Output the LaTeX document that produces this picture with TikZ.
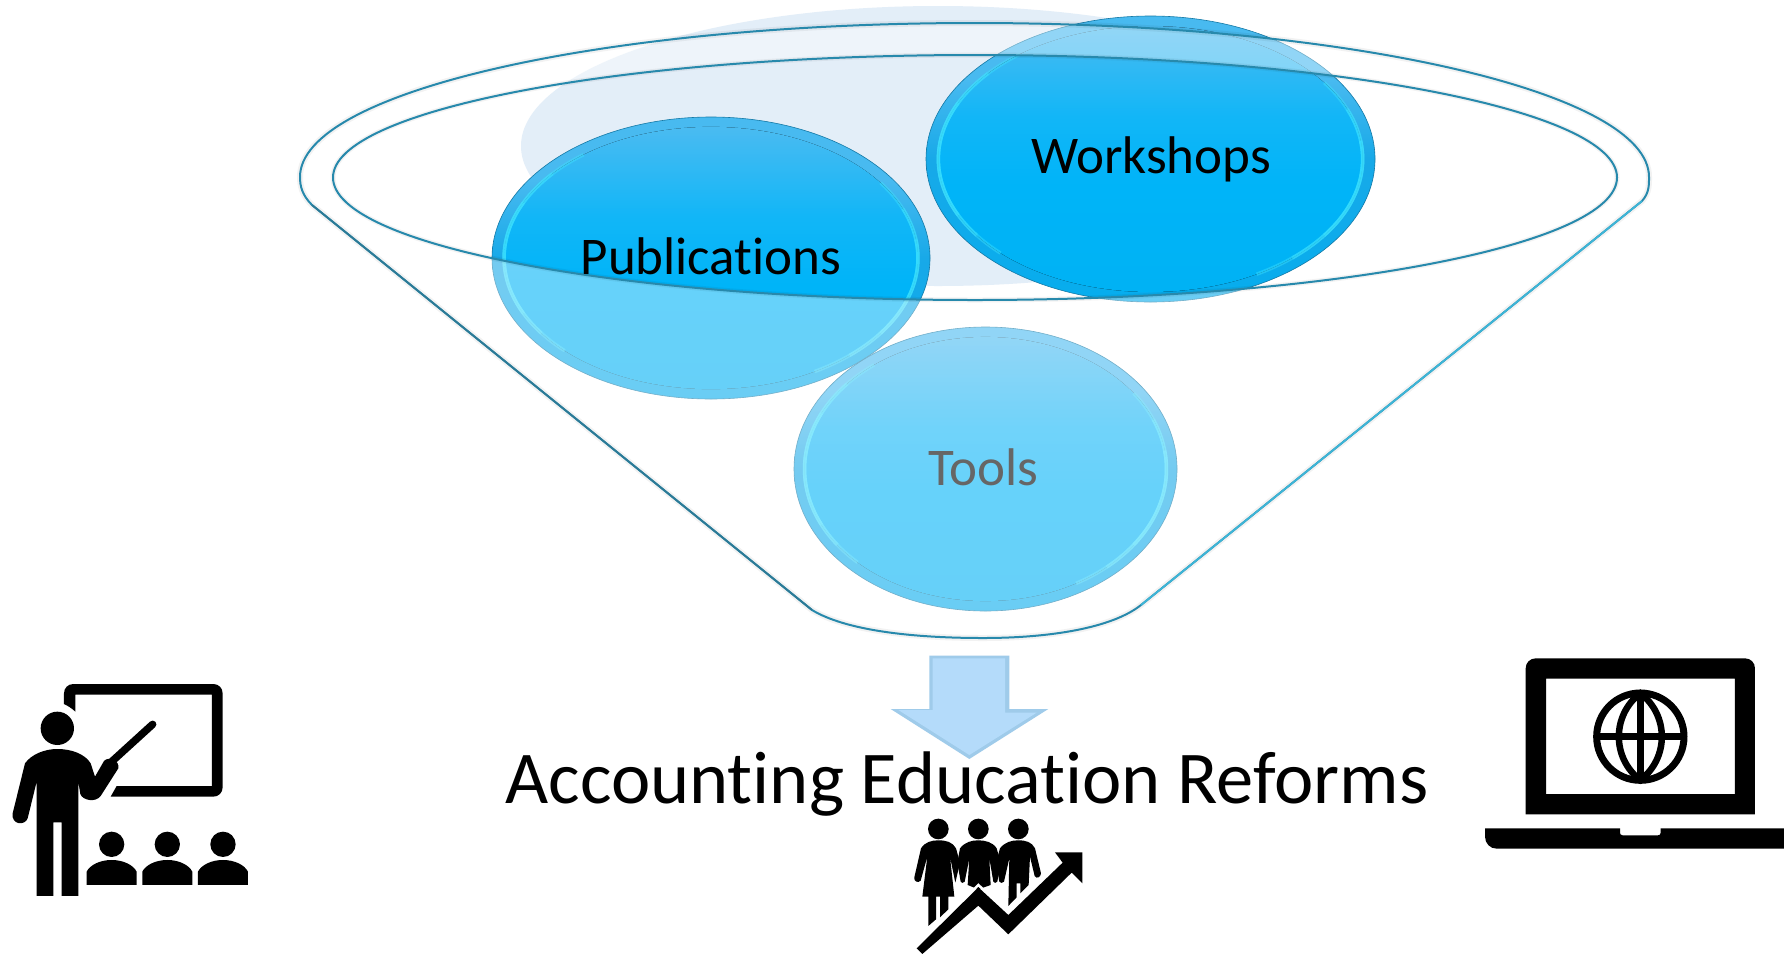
\documentclass[tikz,border=0pt]{standalone}
\usepackage{fontspec}
\setmainfont{Carlito}[Ligatures=NoCommon]
\usetikzlibrary{shapes.geometric}
\definecolor{haze}{HTML}{E3EEF8}
\definecolor{ballband}{HTML}{1CA8E6}
\definecolor{rimbright}{HTML}{3FE4FF}
\definecolor{funnelline}{HTML}{2789AC}
\definecolor{funneldark}{HTML}{2C7A96}
\definecolor{funnelright}{HTML}{3DB6D8}
\definecolor{arrowmain}{HTML}{B4DBFA}
\definecolor{arrowedge}{HTML}{9FCBEA}
\definecolor{toolgrey}{HTML}{666666}
\definecolor{bfa}{HTML}{00B2F4}
\definecolor{bfb}{HTML}{00B4F8}
\definecolor{bfc}{HTML}{12B6F7}
\definecolor{bfd}{HTML}{4ABBF1}
\definecolor{boa}{HTML}{06ADEE}
\definecolor{bob}{HTML}{18A9E8}
\definecolor{boc}{HTML}{48BAF0}
\pgfdeclareverticalshading{ballfill}{100bp}{color(0bp)=(bfa); color(25bp)=(bfa); color(45bp)=(bfb); color(58bp)=(bfc); color(75bp)=(bfd); color(100bp)=(bfd)}
\pgfdeclareverticalshading{ballouter}{100bp}{color(0bp)=(boa); color(25bp)=(boa); color(50bp)=(bob); color(64bp)=(boc); color(100bp)=(boc)}
\newcommand{\funnelpath}{(300,177) .. controls (300,92) and (602,23) .. (974.5,23)
  .. controls (1347,23) and (1649,92) .. (1649,177)
  .. controls (1649,186) and (1649,193) .. (1642,201)
  -- (1141,605) .. controls (1112,628) and (1050,638) .. (983,638)
  .. controls (910,638) and (845,630) .. (812,610)
  -- (312,205) .. controls (302,195) and (300,186) .. (300,177) -- cycle}
\newcommand{\rimpath}{(975,177.5) ellipse[x radius=642,y radius=122.5]}
\tikzset{
  ball/.style={ellipse,inner sep=0pt,outer sep=0pt,shading=ballouter,draw=black!28!ballband,line width=.6pt},
  rimarc/.style={rimbright,line width=3.5pt,opacity=.42},
  lab/.style={font=\fontsize{53}{53}\selectfont,inner sep=0pt,text=black},
  silhouette/.style={fill=black,draw=none},
}
\newcommand{\onearc}[5]{% node rx ry from to
  \draw[rimarc] ([shift={(#4:#2*0.945 and #3*0.93)}]#1.center) arc[start angle=#4,end angle=#5,x radius=#2*0.945,y radius=#3*0.93];}
\newcommand{\ballinner}[3]{% node, rx, ry
  \fill[shading=ballfill] (#1.center) ellipse[x radius=#2*0.945,y radius=#3*0.93];
  \onearc{#1}{#2}{#3}{135}{232}\onearc{#1}{#2}{#3}{145}{220}\onearc{#1}{#2}{#3}{155}{205}
  \onearc{#1}{#2}{#3}{-35}{60}\onearc{#1}{#2}{#3}{-22}{48}\onearc{#1}{#2}{#3}{-8}{35}
}
\begin{document}
\begin{tikzpicture}[x=1pt,y=-1pt]
\useasboundingbox (0,0) rectangle (1784,954);
\fill[white] (0,0) rectangle (1784,954);
% haze behind the funnel
\fill[haze] (938,146) ellipse[x radius=417,y radius=140];
% balls
\node[ball,minimum width=383pt,minimum height=284pt] (tools) at (985.5,469) {};
\ballinner{tools}{191.5}{142}
\node[ball,minimum width=438pt,minimum height=282pt] (pub) at (711,258) {};
\ballinner{pub}{219}{141}
\node[ball,minimum width=449pt,minimum height=286pt] (work) at (1150.5,159) {};
\ballinner{work}{224.5}{143}
% funnel glass
\fill[white,opacity=.4,even odd rule] \funnelpath \rimpath;
% funnel soft shadow and lines
\draw[black,opacity=.05,line width=6pt] \funnelpath;
\draw[black,opacity=.05,line width=5pt] \rimpath;
\draw[funnelline,line width=2pt] \funnelpath;
\draw[funnelright,line width=1.7pt] (1642,201) -- (1141,605);
\draw[funneldark,line width=1.8pt] (312,205) -- (812,610);
\draw[funnelline,line width=2pt] \rimpath;
% labels
\node[lab] (publabel) at (711,256) {Publications};
\node[lab] (worklabel) at (1151,159) {Workshops};
\node[lab,text=toolgrey] (toolslabel) at (983,467) {Tools};
% down arrow
\begin{scope}[shift={(860,640)},x=.3333pt,y=-.3333pt]
\fill[arrowedge] (208,47) -- (448,47) -- (448,207) -- (565,207) -- (328,357) -- (92,207) -- (208,207) -- cycle;
\fill[arrowmain] (218,55) -- (435,55) -- (435,218) -- (530,218) -- (328,345) -- (115,210) -- (218,210) -- cycle;
\end{scope}
\node[font=\fontsize{74.5}{74.5}\selectfont,inner sep=0pt] (reforms) at (967,784) {Accounting Education Reforms};
% presenter icon
\begin{scope}[shift={(0,660)},x=.3333pt,y=-.3333pt]
\fill[silhouette] (192,132) -- (192,100) .. controls (192,84) and (204,72) .. (220,72) -- (640,72)
  .. controls (656,72) and (668,84) .. (668,100) -- (668,382) .. controls (668,398) and (656,410) .. (640,410)
  -- (332,410) -- (350,378) -- (636,378) -- (636,104) -- (226,104) -- (226,155) .. controls (216,145) and (204,138) .. (192,132) -- cycle;
\fill[silhouette] (172,205) circle[radius=50];
\fill[silhouette] (75,310) .. controls (95,282) and (135,267) .. (172,267) .. controls (215,267) and (255,282) .. (272,310)
  -- (285,350) -- (312,303) .. controls (325,288) and (360,300) .. (355,325) -- (302,408)
  .. controls (288,428) and (248,422) .. (241,402) -- (235,365) -- (235,708) -- (185,708) -- (185,487) -- (160,487) -- (160,708) -- (110,708) -- (110,365)
  -- (83,475) .. controls (75,498) and (33,495) .. (38,460) -- cycle;
\draw[black,line width=7.5pt,line cap=round] (335,305) -- (458,193);
\foreach \dx in {0,167,334}{
  \fill[silhouette] (335+\dx,553) circle[radius=38];
  \fill[silhouette] (260+\dx,675) -- (260+\dx,635) .. controls (270+\dx,615) and (300+\dx,600) .. (335+\dx,600)
    .. controls (370+\dx,600) and (400+\dx,615) .. (410+\dx,635) -- (410+\dx,675) -- cycle;
}
\end{scope}
% laptop icon
\begin{scope}[shift={(1470,640)},x=.3333pt,y=-.3333pt]
\fill[silhouette,even odd rule] (167,523) -- (167,85) .. controls (167,68) and (180,55) .. (197,55) -- (825,55)
  .. controls (842,55) and (855,68) .. (855,85) -- (855,523) -- cycle (228,116) rectangle (795,462);
\fill[silhouette] (45,565) -- (450,565) -- (450,578) .. controls (450,583) and (453,586) .. (458,586) -- (564,586)
  .. controls (569,586) and (572,583) .. (572,578) -- (572,565) -- (942,565) -- (942,626) -- (80,626)
  .. controls (60,626) and (45,610) .. (45,590) -- cycle;
\draw[black,line width=7pt] (511,290) circle[radius=131];
\draw[black,line width=6.5pt] (511,160) -- (511,420) (385,290) -- (637,290);
\draw[black,line width=6.5pt] (511,160) .. controls (425,225) and (425,355) .. (511,420) .. controls (597,355) and (597,225) .. (511,160) -- cycle;
\end{scope}
% people with rising arrow
\begin{scope}[shift={(860,640)},x=.3333pt,y=-.3333pt]
\foreach \hx in {235,355,475}{\fill[silhouette] (\hx,567) circle[radius=31];}
% woman
\fill[silhouette] (183,625) .. controls (195,606) and (215,601) .. (235,601) .. controls (258,601) and (278,606) .. (288,625)
  -- (300,668) -- (286,728) -- (270,650) -- (283,770) -- (265,770) -- (265,808) -- (240,832) -- (240,770) -- (228,770) -- (228,838) -- (205,858) -- (205,770) -- (187,770)
  -- (202,650) -- (182,722) .. controls (175,730) and (160,725) .. (163,712) -- cycle;
% middle man
\fill[silhouette] (300,625) .. controls (315,606) and (335,601) .. (355,601) .. controls (375,601) and (398,606) .. (410,625)
  -- (422,668) -- (412,725) .. controls (408,730) and (402,730) .. (400,725) -- (388,655) -- (392,735) -- (355,748) -- (323,735) -- (328,655) -- (314,725) .. controls (310,730) and (304,730) .. (302,725) -- (292,668) -- cycle;
% right man
\fill[silhouette] (420,625) .. controls (435,606) and (455,601) .. (475,601) .. controls (498,601) and (515,606) .. (525,625)
  -- (543,700) .. controls (542,712) and (530,718) .. (524,708) -- (510,650) -- (506,735) -- (481,760) -- (481,730) -- (470,730) -- (470,772) -- (445,798) -- (448,655) -- (432,725) .. controls (428,730) and (420,730) .. (418,725) -- (408,668) -- cycle;
% rising arrow
\draw[white,line width=2.5pt] (170,925) -- (355,735) -- (445,818) -- (600,672);
\fill[silhouette] (170,925) -- (355,742) -- (445,825) -- (608,668) -- (585,637) -- (667,637) -- (667,730) -- (635,698) -- (445,883) -- (355,797) -- (187,942) -- cycle;
\end{scope}
\end{tikzpicture}
\end{document}
